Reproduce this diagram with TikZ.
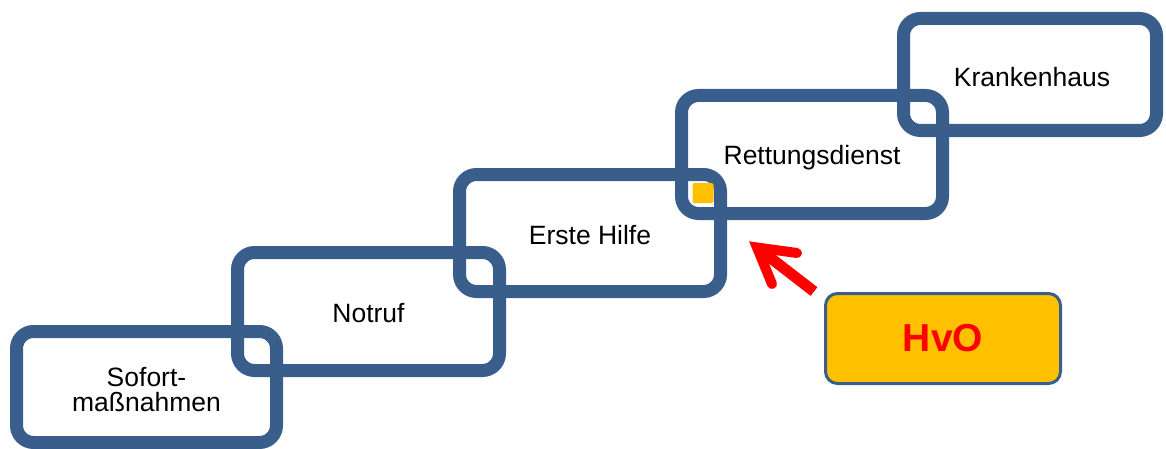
\documentclass[tikz,border=0pt]{standalone}
\usepackage{fontspec}
\setmainfont{Liberation Sans}
\definecolor{chainblue}{HTML}{3A5E8C}
\definecolor{hvoorange}{HTML}{FFC000}
\definecolor{hvored}{HTML}{FF0000}
\begin{document}
\begin{tikzpicture}[x=1pt,y=1pt,
  link/.style={draw=chainblue, line width=13pt, rounded corners=17pt,
    rectangle, inner sep=0pt},
  linktext/.style={inner sep=0pt, align=center,
    font=\fontsize{26.5}{25}\selectfont},
  hvobox/.style={draw=chainblue, line width=3pt, fill=hvoorange,
    rounded corners=12pt, rectangle, minimum width=235pt, minimum height=90pt,
    font=\fontsize{39}{40}\selectfont\bfseries, text=hvored},
  marker/.style={fill=hvoorange, rounded corners=2pt, minimum width=21pt,
    minimum height=20pt, inner sep=0pt},
  pointer/.style={draw=hvored, line width=10pt}]
\useasboundingbox (0,0) rectangle (1166,448);

% chain of links, each one step up and to the right
\node[link, minimum width=260pt, minimum height=111pt] (sofort) at (146.5,61) {};
\node[link, minimum width=262pt, minimum height=118pt] (notruf) at (368.5,136.5) {};
\node[link, minimum width=261pt, minimum height=117pt] (hilfe) at (590,215) {};
\node[link, minimum width=261pt, minimum height=118pt] (rettung) at (812,293.5) {};
\node[link, minimum width=253pt, minimum height=112pt] (kranken) at (1030,373.5) {};

% captions, set a little below each link's centre
\node[linktext] (sofortT) at ([yshift=-3pt]sofort.center) {Sofort-\\maßnahmen};
\node[linktext] (notrufT) at ([yshift=-2pt]notruf.center) {Notruf};
\node[linktext] (hilfeT) at ([yshift=-2pt]hilfe.center) {Erste Hilfe};
\node[linktext] (rettungT) at ([yshift=-3pt]rettung.center) {Rettungsdienst};
\node[linktext] (krankenT) at ([xshift=2pt,yshift=-3pt]kranken.center) {Krankenhaus};

% marker in the overlap of the first-aid and rescue-service links
\node[marker] (gap) at (703,255) {};

% HvO box and its arrow into the chain
\node[hvobox] (hvo) at (943,109.5) {HvO};
\coordinate (tail) at ([xshift=-10pt,yshift=0.5pt]hvo.north west);
\coordinate (tip) at (757,200.5);
\coordinate (wingA) at (797,195);
\coordinate (wingB) at (772,164);
\draw[pointer, line width=11pt, line cap=butt] (tail) -- (tip);
\draw[pointer, line cap=round, line join=miter] (wingA) -- (tip) -- (wingB);
\end{tikzpicture}
\end{document}
